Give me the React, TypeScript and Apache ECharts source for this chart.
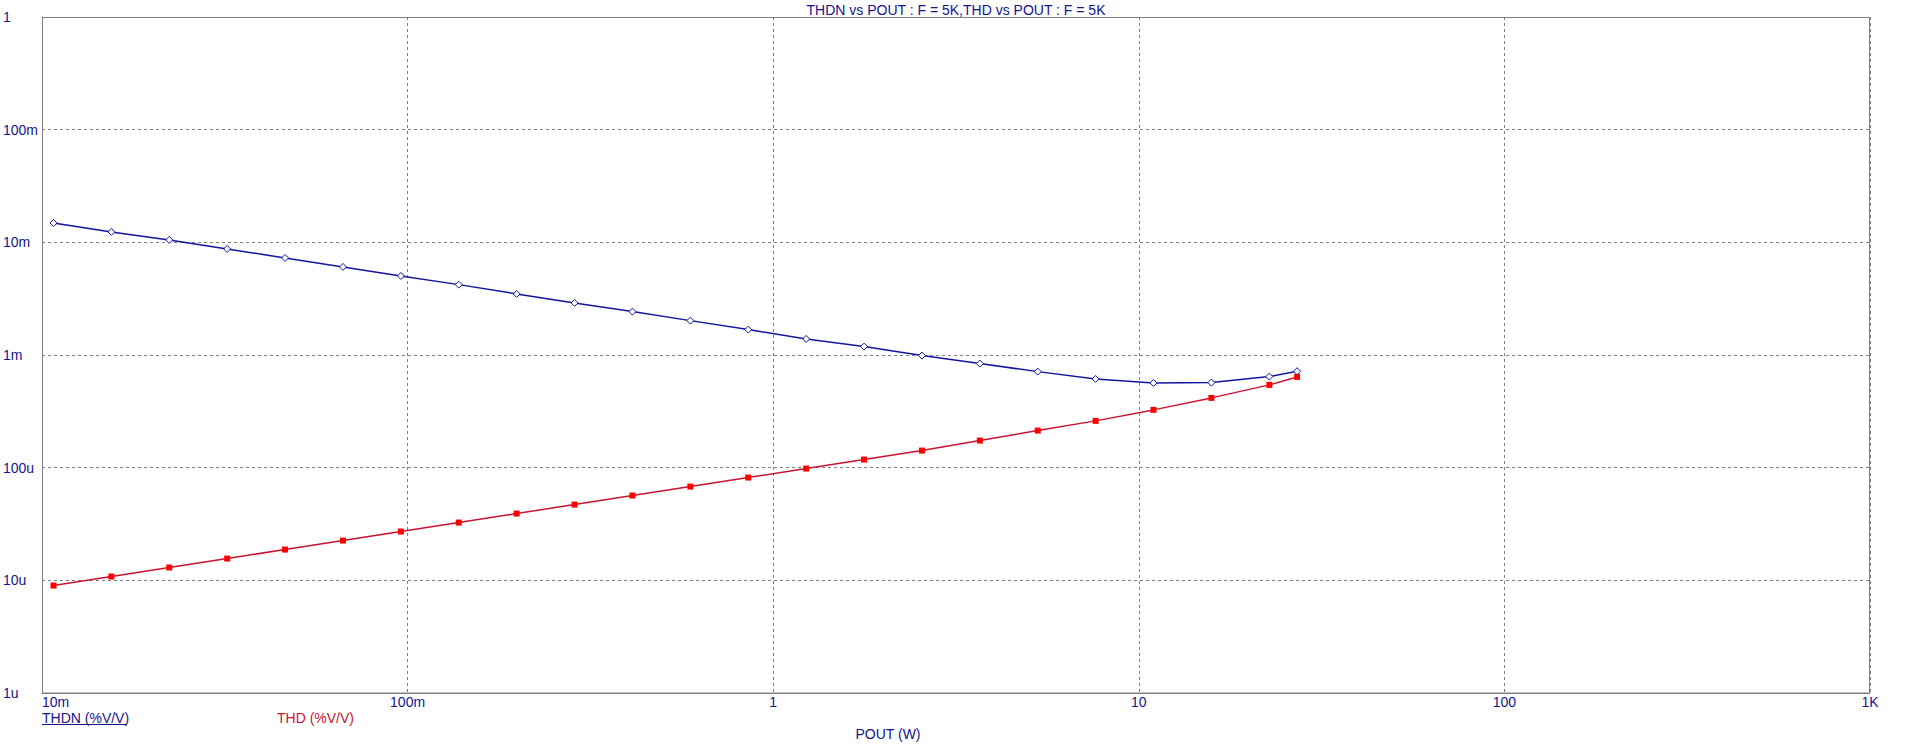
import React, { useEffect, useRef } from "react";
import * as echarts from "echarts";

const pout = [0.01075, 0.01548, 0.02229, 0.0321, 0.04622, 0.06656, 0.09585, 0.138, 0.1987, 0.2862, 0.4121, 0.5935, 0.8546, 1.231, 1.772, 2.552, 3.675, 5.292, 7.62, 10.97, 15.8, 22.75, 27.1];
const thdn = [0.01486, 0.01237, 0.0105, 0.008738, 0.007271, 0.006048, 0.005032, 0.004213, 0.003484, 0.0029, 0.002428, 0.002019, 0.00168, 0.001389, 0.001187, 0.000988, 0.000839, 0.000712, 0.000613, 0.000565, 0.000569, 0.000643, 0.000718];
const thd = [8.99e-6, 1.081e-5, 1.299e-5, 1.561e-5, 1.876e-5, 2.254e-5, 2.71e-5, 3.257e-5, 3.914e-5, 4.705e-5, 5.655e-5, 6.796e-5, 8.17e-5, 9.82e-5, 1.18e-4, 1.418e-4, 1.74e-4, 2.134e-4, 2.602e-4, 3.257e-4, 4.162e-4, 5.429e-4, 6.391e-4];

const xTickExponents = [-2, -1, 0, 1, 2, 3];
const xTickLabels = ["10m", "100m", "1", "10", "100", "1K"];
const yTickExponents = [-6, -5, -4, -3, -2, -1, 0];
const yTickLabels = ["1u", "10u", "100u", "1m", "10m", "100m", "1"];

const titleText = "THDN vs POUT : F = 5K,THD vs POUT : F = 5K";
const xAxisTitle = "POUT (W)";
const legendThdn = "THDN (%V/V)";
const legendThd = "THD (%V/V)";

const FONT = "'Liberation Sans', Arial, sans-serif";
const FS = 14;
const TEXT_COLOR = "#14148c";
const BLUE = "#1414a0";
const RED_LINE = "#c81430";
const RED_MARK = "#ff0000";
const GRAY = "#808080";

function lookup(exps: number[], labels: string[], v: number) {
  const e = Math.round(Math.log10(v));
  const i = exps.indexOf(e);
  return i >= 0 ? labels[i] : "";
}

export default function App() {
  const ref = useRef<HTMLDivElement>(null);
  useEffect(() => {
    if (!ref.current) return;
    const chart = echarts.init(ref.current, undefined, { renderer: "svg" });
    chart.setOption({
      animation: false,
      backgroundColor: "#ffffff",
      grid: {
        left: 42,
        right: 37,
        top: 17,
        bottom: 55,
        show: false,
      },
      xAxis: {
        type: "log",
        logBase: 10,
        min: 0.01,
        max: 1000,
        splitNumber: 5,
        axisLine: { show: true, lineStyle: { color: GRAY, width: 1 } },
        axisTick: { show: false },
        splitLine: { show: true, lineStyle: { color: GRAY, type: [3, 3], width: 1 } },
        axisLabel: {
          margin: 2,
          color: TEXT_COLOR,
          fontFamily: FONT,
          fontSize: FS,
          alignMinLabel: "left",
          showMinLabel: true,
          showMaxLabel: true,
          formatter: (v: number) => lookup(xTickExponents, xTickLabels, v),
        },
      },
      yAxis: {
        type: "log",
        logBase: 10,
        min: 1e-6,
        max: 1,
        splitNumber: 6,
        axisLine: { show: true, lineStyle: { color: GRAY, width: 1 } },
        axisTick: { show: false },
        splitLine: { show: true, lineStyle: { color: GRAY, type: [3, 3], width: 1 } },
        axisLabel: {
          margin: 39,
          align: "left",
          color: TEXT_COLOR,
          fontFamily: FONT,
          fontSize: FS,
          showMinLabel: true,
          showMaxLabel: true,
          formatter: (v: number) => lookup(yTickExponents, yTickLabels, v),
        },
      },
      series: [
        {
          name: "THD",
          type: "line",
          data: pout.map((x, i) => [x, thd[i]]),
          symbol: "rect",
          symbolSize: 6,
          lineStyle: { color: RED_LINE, width: 1.5 },
          itemStyle: { color: RED_MARK, borderColor: RED_MARK, borderWidth: 0 },
          z: 2,
        },
        {
          name: "THDN",
          type: "line",
          data: pout.map((x, i) => [x, thdn[i]]),
          symbol: "diamond",
          symbolSize: 7,
          showAllSymbol: true,
          lineStyle: { color: BLUE, width: 1.5 },
          itemStyle: { color: "#ffffff", borderColor: BLUE, borderWidth: 1 },
          z: 3,
        },
      ],
      graphic: [
        {
          type: "rect",
          shape: { x: 42.5, y: 17.5, width: 1827, height: 675.5 },
          style: { fill: "none", stroke: GRAY, lineWidth: 1 },
          silent: true,
          z: 1,
        },
        {
          type: "text",
          x: 956,
          y: 9.5,
          style: {
            text: titleText,
            fill: TEXT_COLOR,
            font: `${FS}px ${FONT}`,
            textAlign: "center",
            textVerticalAlign: "middle",
          },
        },
        {
          type: "text",
          x: 888,
          y: 734,
          style: {
            text: xAxisTitle,
            fill: TEXT_COLOR,
            font: `${FS}px ${FONT}`,
            textAlign: "center",
            textVerticalAlign: "middle",
          },
        },
        {
          type: "text",
          x: 42,
          y: 718,
          style: {
            text: legendThdn,
            fill: TEXT_COLOR,
            font: `${FS}px ${FONT}`,
            textAlign: "left",
            textVerticalAlign: "middle",
          },
        },
        {
          type: "line",
          shape: { x1: 42, y1: 724.5, x2: 127, y2: 724.5 },
          style: { stroke: TEXT_COLOR, lineWidth: 1 },
        },
        {
          type: "text",
          x: 277,
          y: 718,
          style: {
            text: legendThd,
            fill: RED_LINE,
            font: `${FS}px ${FONT}`,
            textAlign: "left",
            textVerticalAlign: "middle",
          },
        },
      ],
    });
    return () => chart.dispose();
  }, []);
  return (
    <div
      ref={ref}
      style={{ position: "absolute", left: 0, top: 0, width: 1907, height: 748 }}
    />
  );
}
